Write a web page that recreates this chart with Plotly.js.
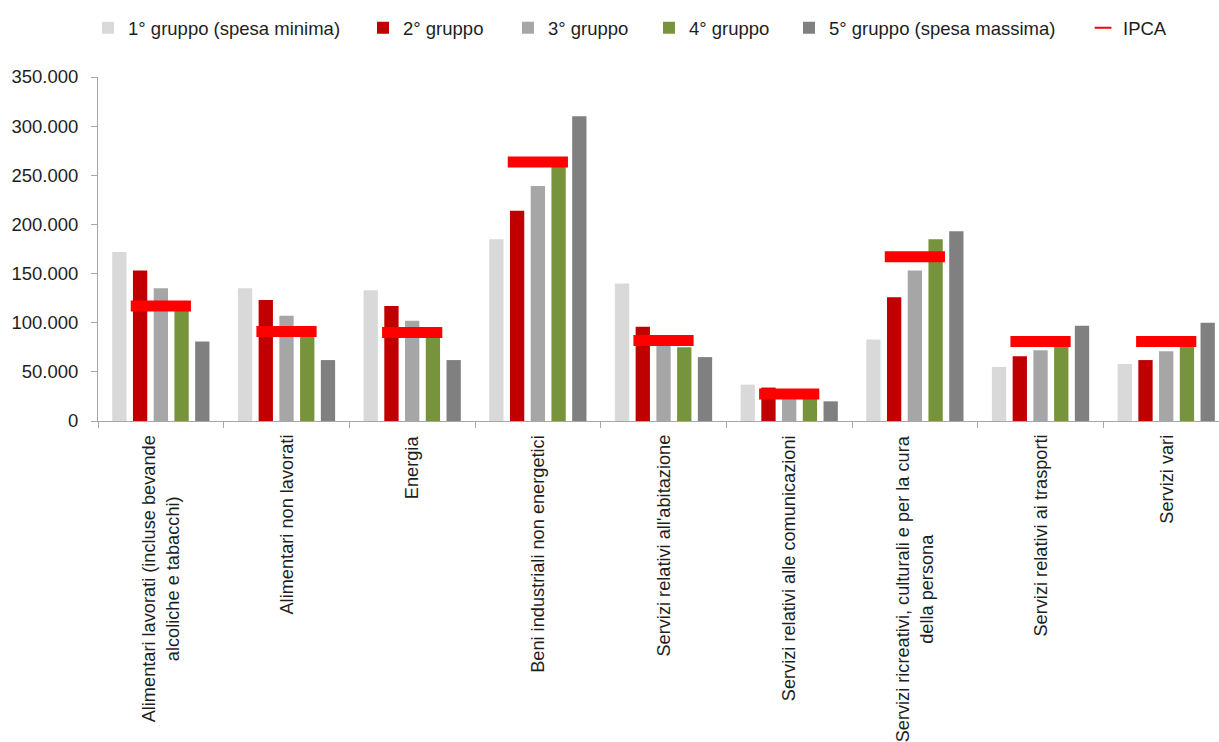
<!DOCTYPE html>
<html>
<head>
<meta charset="utf-8">
<script src="https://cdn.plot.ly/plotly-3.0.1.min.js"></script>
<style>
  html, body { margin: 0; padding: 0; background: #ffffff; overflow: hidden; }
  #chart { width: 1219px; height: 742px; }
</style>
</head>
<body>
<div id="chart"></div>
<script>
// Categorie di spesa (etichette dell'asse orizzontale)
const categories = [
  "Alimentari lavorati (incluse bevande<br>alcoliche e tabacchi)",
  "Alimentari non lavorati",
  "Energia",
  "Beni industriali non energetici",
  "Servizi relativi all'abitazione",
  "Servizi relativi alle comunicazioni",
  "Servizi ricreativi, culturali e per la cura<br>della persona",
  "Servizi relativi ai trasporti",
  "Servizi vari"
];

// Valori per gruppo di spesa
const gruppo1 = [172000, 135000, 133000, 185000, 140000, 37000, 83000, 55000, 58000];
const gruppo2 = [153000, 123000, 117000, 214000, 96000, 34000, 126000, 66000, 62000];
const gruppo3 = [135000, 107000, 102000, 239000, 79000, 26000, 153000, 72000, 71000];
const gruppo4 = [115000, 89000, 88000, 262000, 75000, 25000, 185000, 79000, 79000];
const gruppo5 = [81000, 62000, 62000, 310000, 65000, 20000, 193000, 97000, 100000];
const ipca    = [117000, 91000, 90000, 263500, 82000, 27500, 167000, 81000, 81000];

const seriesNames = [
  "1° gruppo (spesa minima)",
  "2° gruppo",
  "3° gruppo",
  "4° gruppo",
  "5° gruppo (spesa massima)"
];
const seriesColors = ["#D9D9D9", "#C00000", "#A6A6A6", "#77933C", "#808080"];

const FONT = "'Liberation Sans', Arial, sans-serif";
const FONT_SIZE = 18.5;
const LABEL_SIZE = 18.2;
const TEXT_COLOR = "#1e1e1e";

// Each legend entry sits in its own legend box so the row can be spaced freely
const legendIds = ["legend", "legend2", "legend3", "legend4", "legend5", "legend6"];
const legendX = [-0.0089, 0.2364, 0.3657, 0.4915, 0.6164, 0.8787];

const groups = [gruppo1, gruppo2, gruppo3, gruppo4, gruppo5];
const traces = groups.map((vals, i) => ({
  type: "bar",
  name: seriesNames[i],
  x: categories,
  y: vals,
  marker: { color: seriesColors[i] },
  legend: legendIds[i],
  hoverinfo: "skip"
}));

// Indice IPCA: trattino orizzontale rosso sopra ciascun gruppo di barre
traces.push({
  type: "scatter",
  mode: "markers",
  name: "IPCA",
  x: categories,
  y: ipca,
  marker: {
    symbol: "line-ew",
    size: 43,
    color: "#FF0000",
    line: { color: "#FF0000", width: 11 }
  },
  legend: legendIds[5],
  hoverinfo: "skip"
});

// Etichette delle categorie ruotate, centrate sotto ciascun gruppo
const labels = categories.map(c => ({
  x: c,
  xref: "x",
  y: 0,
  yref: "paper",
  yanchor: "top",
  xanchor: "center",
  yshift: -12,
  text: c,
  textangle: -90,
  align: "center",
  showarrow: false,
  font: { family: FONT, size: LABEL_SIZE, color: TEXT_COLOR }
}));

const layout = {
  width: 1219,
  height: 742,
  margin: { l: 98, r: 0, t: 77, b: 321, pad: 0, autoexpand: false },
  paper_bgcolor: "#ffffff",
  plot_bgcolor: "#ffffff",
  font: { family: FONT, size: FONT_SIZE, color: TEXT_COLOR },
  separators: ",.",
  barmode: "group",
  bargap: 0.175,
  bargroupgap: 0.31,
  showlegend: true,
  xaxis: {
    type: "category",
    range: [-0.5, 8.42],
    showticklabels: false,
    tickson: "boundaries",
    ticks: "outside",
    ticklen: 6,
    tickcolor: "#A6A6A6",
    showline: true,
    linecolor: "#A6A6A6",
    linewidth: 1,
    showgrid: false,
    zeroline: false,
    fixedrange: true
  },
  yaxis: {
    range: [0, 350000],
    tickvals: [0, 50000, 100000, 150000, 200000, 250000, 300000, 350000],
    tickformat: ",.0f",
    ticks: "outside",
    ticklen: 6,
    tickcolor: "#A6A6A6",
    ticklabelstandoff: 9,
    showline: true,
    linecolor: "#A6A6A6",
    linewidth: 1,
    showgrid: false,
    zeroline: false,
    tickfont: { family: FONT, size: FONT_SIZE, color: TEXT_COLOR },
    fixedrange: true
  },
  annotations: labels
};

legendIds.forEach((id, i) => {
  layout[id] = {
    orientation: "h",
    x: legendX[i],
    xanchor: "left",
    y: 1.142,
    yanchor: "middle",
    font: { family: FONT, size: FONT_SIZE, color: TEXT_COLOR },
    bgcolor: "rgba(0,0,0,0)",
    itemwidth: 30,
    itemsizing: i === 5 ? "constant" : "trace"
  };
});

Plotly.newPlot("chart", traces, layout, { displayModeBar: false, staticPlot: true });
</script>
</body>
</html>
